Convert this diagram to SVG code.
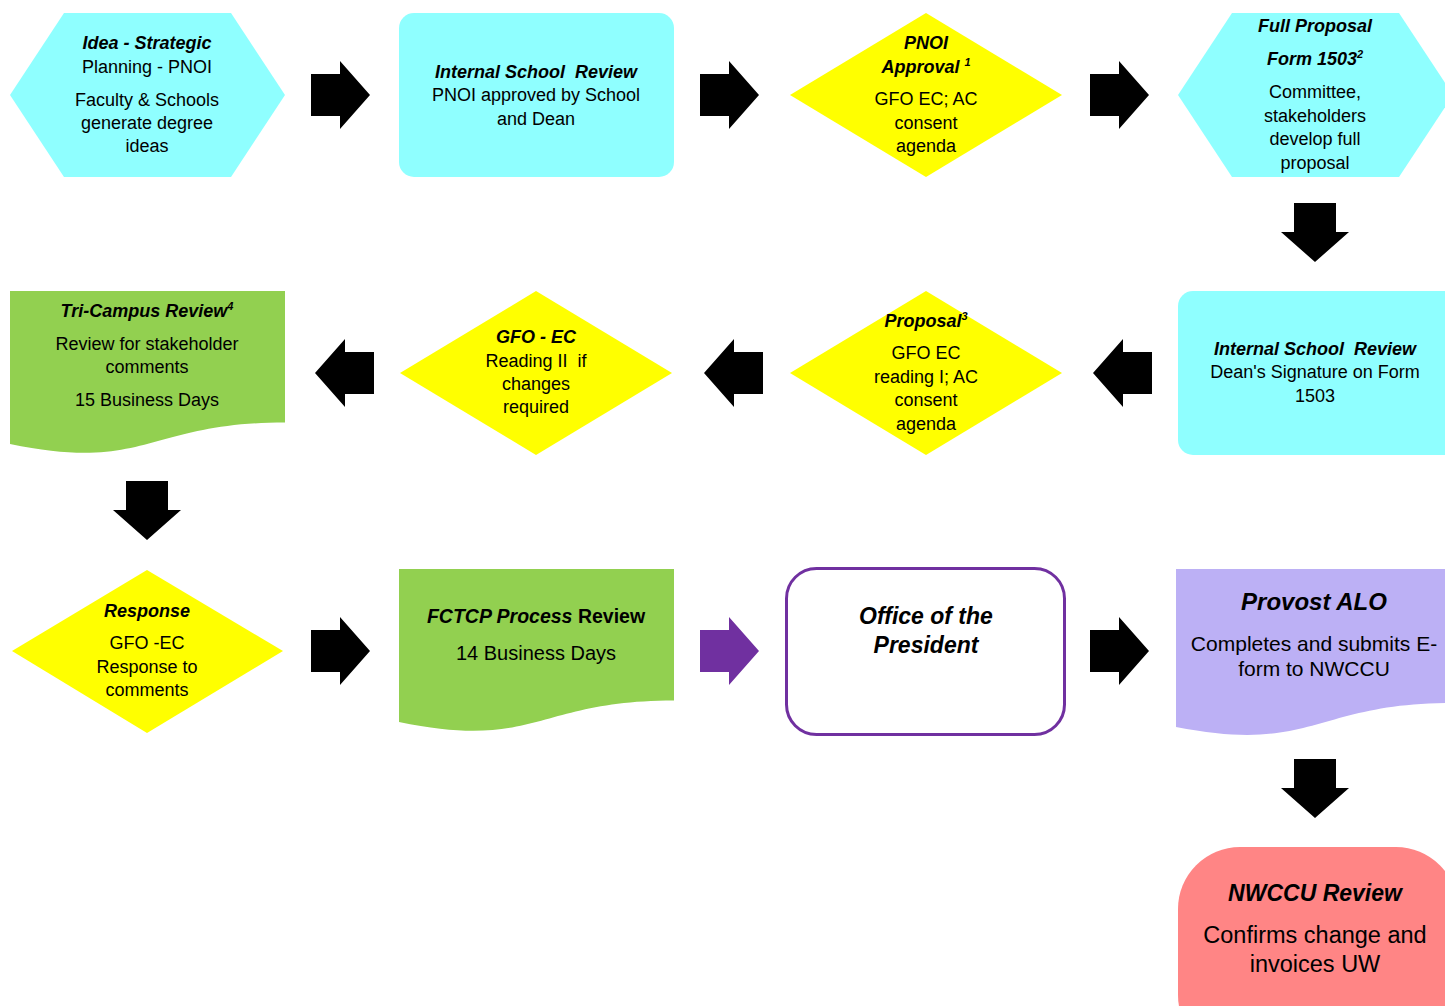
<svg xmlns="http://www.w3.org/2000/svg" width="1445" height="1006" viewBox="0 0 1445 1006">
<style>
text{font-family:"Liberation Sans",Arial,sans-serif;fill:#000;text-anchor:middle}
.t{font-size:18px}
.h{font-size:18px;font-weight:bold;font-style:italic}
.cyan{fill:#8FFFFF}
.yel{fill:#FFFF00}
.grn{fill:#92D050}
.lav{fill:#BCB0F5}
.sal{fill:#FF8585}
.arr{fill:#000}
.arrp{fill:#7030A0}
</style>
<defs>
<path id="ar" d="M0,-21 H29 V-34 L59,0 L29,34 V21 H0 Z"/>
</defs>
<g id="connectors">
<use href="#ar" class="arr" transform="translate(311,95)"/>
<use href="#ar" class="arr" transform="translate(700,95)"/>
<use href="#ar" class="arr" transform="translate(1090,95)"/>
<use href="#ar" class="arr" transform="translate(1315,203) rotate(90)"/>
<use href="#ar" class="arr" transform="translate(1152,373) rotate(180)"/>
<use href="#ar" class="arr" transform="translate(763,373) rotate(180)"/>
<use href="#ar" class="arr" transform="translate(374,373) rotate(180)"/>
<use href="#ar" class="arr" transform="translate(147,481) rotate(90)"/>
<use href="#ar" class="arr" transform="translate(311,651)"/>
<use href="#ar" class="arrp" transform="translate(700,651)"/>
<use href="#ar" class="arr" transform="translate(1090,651)"/>
<use href="#ar" class="arr" transform="translate(1315,759) rotate(90)"/>
</g>
<g id="n1">
<polygon class="cyan" points="10,95 64,13 231,13 285,95 231,177 64,177"/>
<text class="h" x="147" y="49">Idea - Strategic</text>
<text class="t" x="147" y="73">Planning - PNOI</text>
<text class="t" x="147" y="106">Faculty &amp; Schools</text>
<text class="t" x="147" y="129">generate degree</text>
<text class="t" x="147" y="152">ideas</text>
</g>
<g id="n2">
<rect class="cyan" x="399" y="13" width="275" height="164" rx="15"/>
<text class="h" x="536" y="78" xml:space="preserve">Internal School  Review</text>
<text class="t" x="536" y="101">PNOI approved by School</text>
<text class="t" x="536" y="125">and Dean</text>
</g>
<g id="n3">
<polygon class="yel" points="790,95 926,13 1062,95 926,177"/>
<text class="h" x="926" y="49">PNOI</text>
<text class="h" x="926" y="73">Approval <tspan font-size="11" dy="-7">1</tspan></text>
<text class="t" x="926" y="105">GFO EC; AC</text>
<text class="t" x="926" y="129">consent</text>
<text class="t" x="926" y="152">agenda</text>
</g>
<g id="n4">
<polygon class="cyan" points="1178,95 1232,13 1399,13 1453,95 1399,177 1232,177"/>
<text class="h" x="1315" y="32">Full Proposal</text>
<text class="h" x="1315" y="65">Form 1503<tspan font-size="11" dy="-7">2</tspan></text>
<text class="t" x="1315" y="98">Committee,</text>
<text class="t" x="1315" y="122">stakeholders</text>
<text class="t" x="1315" y="145">develop full</text>
<text class="t" x="1315" y="169">proposal</text>
</g>
<g id="n5">
<rect class="cyan" x="1178" y="291" width="280" height="164" rx="15"/>
<text class="h" x="1315" y="355" xml:space="preserve">Internal School  Review</text>
<text class="t" x="1315" y="378">Dean's Signature on Form</text>
<text class="t" x="1315" y="402">1503</text>
</g>
<g id="n6">
<polygon class="yel" points="790,373 926,291 1062,373 926,455"/>
<text class="h" x="926" y="327">Proposal<tspan font-size="11" dy="-7">3</tspan></text>
<text class="t" x="926" y="359">GFO EC</text>
<text class="t" x="926" y="383">reading I; AC</text>
<text class="t" x="926" y="406">consent</text>
<text class="t" x="926" y="430">agenda</text>
</g>
<g id="n7">
<polygon class="yel" points="400,373 536,291 672,373 536,455"/>
<text class="h" x="536" y="343">GFO - EC</text>
<text class="t" x="536" y="367" xml:space="preserve">Reading II  if</text>
<text class="t" x="536" y="390">changes</text>
<text class="t" x="536" y="413">required</text>
</g>
<g id="n8">
<path class="grn" d="M10,291 H285 V422.5 C147.5,422.5 147.5,472.6 10,444 Z"/>
<text class="h" x="147" y="317">Tri-Campus Review<tspan font-size="11" dy="-7">4</tspan></text>
<text class="t" x="147" y="350">Review for stakeholder</text>
<text class="t" x="147" y="373">comments</text>
<text class="t" x="147" y="406">15 Business Days</text>
</g>
<g id="n9">
<polygon class="yel" points="12,651 147,570 283,651 147,733"/>
<text class="h" x="147" y="617">Response</text>
<text class="t" x="147" y="649">GFO -EC</text>
<text class="t" x="147" y="673">Response to</text>
<text class="t" x="147" y="696">comments</text>
</g>
<g id="n10">
<path class="grn" d="M399,569 H674 V700.5 C536.5,700.5 536.5,750.6 399,722 Z"/>
<text x="536" y="623" style="font-size:19.5px;font-weight:bold"><tspan font-style="italic">FCTCP Process</tspan> Review</text>
<text x="536" y="660" style="font-size:20px">14 Business Days</text>
</g>
<g id="n11">
<rect x="786.5" y="568.5" width="278" height="166" rx="30" fill="#fff" stroke="#7030A0" stroke-width="3"/>
<text x="926" y="624" style="font-size:23px;font-weight:bold;font-style:italic">Office of the</text>
<text x="926" y="653" style="font-size:23px;font-weight:bold;font-style:italic">President</text>
</g>
<g id="n12">
<path class="lav" d="M1176,569 H1453 V703 C1314.5,703 1314.5,754 1176,727 Z"/>
<text x="1314" y="610" style="font-size:24px;font-weight:bold;font-style:italic">Provost ALO</text>
<text x="1314" y="651" style="font-size:21px">Completes and submits E-</text>
<text x="1314" y="676" style="font-size:21px">form to NWCCU</text>
</g>
<g id="n13">
<rect class="sal" x="1178" y="847" width="280" height="210" rx="62"/>
<text x="1315" y="901" style="font-size:23px;font-weight:bold;font-style:italic">NWCCU Review</text>
<text x="1315" y="943" style="font-size:23.5px">Confirms change and</text>
<text x="1315" y="972" style="font-size:23.5px">invoices UW</text>
</g>
</svg>
